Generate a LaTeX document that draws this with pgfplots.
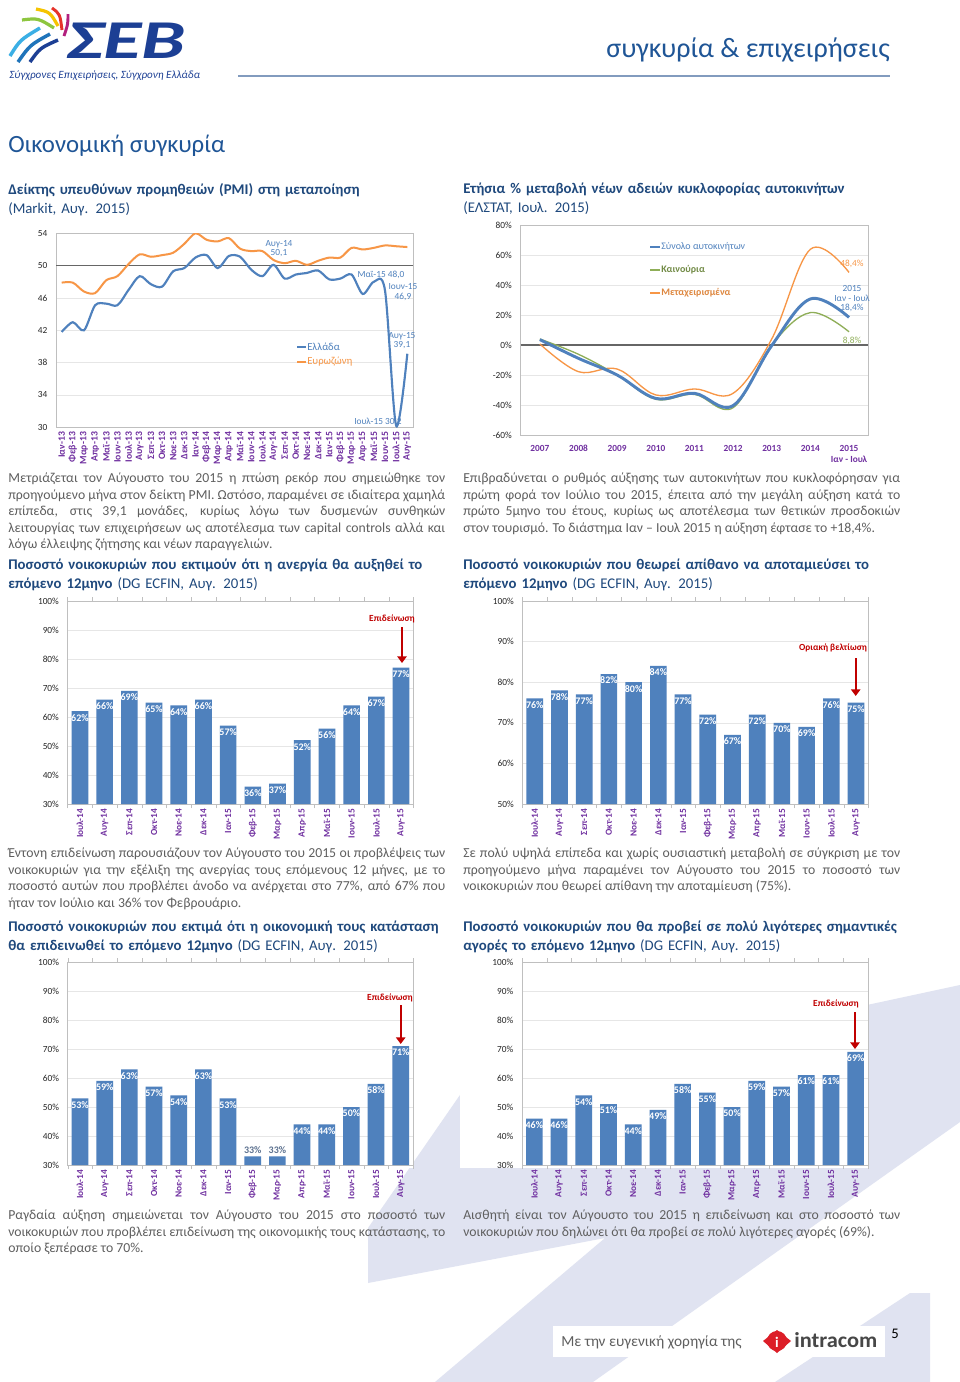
\documentclass[border=0pt]{standalone}
\usepackage{fontspec}
\setmainfont{Carlito}
\usepackage{pgfplots}
\pgfplotsset{compat=1.18}
\usetikzlibrary{arrows.meta}
\definecolor{xblue}{HTML}{4F81BD}
\definecolor{xorange}{HTML}{F79646}
\definecolor{xgreen}{HTML}{8FAE58}
\definecolor{catpurple}{HTML}{7030A0}
\definecolor{headblue}{HTML}{1F497D}
\definecolor{titleblue}{HTML}{1F5596}
\definecolor{bodygray}{HTML}{5F5F5F}
\definecolor{gridgray}{HTML}{E6E6E6}
\definecolor{axgray}{HTML}{BFBFBF}
\definecolor{darkred}{HTML}{C00000}
\definecolor{wm}{HTML}{E0E3F1}
\definecolor{seb}{HTML}{1C3F94}
\definecolor{lblgray}{HTML}{5D7290}
\definecolor{lg1}{HTML}{3BAFE5}
\definecolor{lg2}{HTML}{1F74BA}
\definecolor{lg3}{HTML}{8DC63F}
\definecolor{lg4}{HTML}{F5C400}
\definecolor{lg5}{HTML}{E6332A}
\definecolor{lg6}{HTML}{B3207E}
\definecolor{intred}{HTML}{DC1E28}
\definecolor{hline}{HTML}{829BBE}
\pgfplotsset{
  pg/.style={scale only axis, anchor=south west,
    axis line style={axgray}, ymajorgrids, grid style={gridgray},
    major tick length=0pt,
    /pgf/number format/assume math mode=true,
    yticklabel style={font=\fontsize{7}{8}\selectfont, text=black!85, xshift=-3pt},
  },
  barc/.style={pg, ybar, bar width=12.5pt, xmin=-0.5, xmax=13.5, ymax=100,
    xtick={0,...,13},
    xticklabels={Ιουλ-14,Αυγ-14,Σεπ-14,Οκτ-14,Νοε-14,Δεκ-14,Ιαν-15,Φεβ-15,Μαρ-15,Απρ-15,Μαϊ-15,Ιουν-15,Ιουλ-15,Αυγ-15},
    x tick label style={rotate=90, anchor=east, font=\bfseries\fontsize{7}{8}\selectfont, text=catpurple},
    minor xtick={-0.5,0.5,...,13.5}, minor tick length=3pt, tick align=outside,
    minor tick style={axgray},
    yticklabel={\pgfmathprintnumber{\tick}\%},
    nodes near coords={\pgfmathprintnumber{\pgfplotspointmeta}\%},
    nodes near coords style={anchor=north, text=white, font=\bfseries\fontsize{7.5}{8}\selectfont, inner sep=2pt},
  },
  barfill/.style={fill=xblue, draw=none, bar shift=0pt},
}
\begin{document}
\begin{tikzpicture}
\begin{scope}[x=0.75pt,y=-0.75pt]
\useasboundingbox (0,0) rectangle (960,1382);
\fill[white] (0,0) rectangle (960,1382);
% watermark
\fill[wm] (462,1092) -- (368,1228) -- (368,1283) -- (605,1238) -- (435,1382) -- (593,1382) -- (960,1122) -- (960,985) -- cycle;
\fill[wm] (775,1382) -- (910,1293) -- (930,1293) -- (930,1382) -- cycle;
\fill[white] (460,955) rectangle (868,1168);
\fill[white] (0,955) rectangle (413,1168);
% logo
\draw[line width=2.6pt, lg1] (10,56) .. controls (20,40) .. (40,28);
\draw[line width=2.6pt, lg2] (18,62) .. controls (30,45) .. (50,34);
\draw[line width=2.4pt, lg3] (22,20) .. controls (38,18) .. (54,28);
\draw[line width=2.4pt, lg4] (36,9) .. controls (50,12) .. (58,26);
\draw[line width=2.2pt, lg5] (52,8) .. controls (60,14) .. (62,30);
\draw[line width=2.2pt, lg6] (68,14) .. controls (68,24) .. (64,36);
\draw[line width=2.6pt, seb] (30,62) .. controls (40,48) .. (58,40);
\node[anchor=base west, inner sep=0, text depth=0pt, text=seb, font=\bfseries\itshape\fontsize{38}{38}\selectfont, xscale=1.55, yscale=1.08] at (66,58) {ΣΕΒ};
\node[anchor=base west, inner sep=0, text=seb, font=\itshape\fontsize{8.3}{9}\selectfont] at (9,78) {Σύγχρονες Επιχειρήσεις, Σύγχρονη Ελλάδα};
% header
\node[anchor=base east, inner sep=0, text=titleblue, font=\fontsize{21}{24}\selectfont] at (890,57) {συγκυρία \& επιχειρήσεις};
\draw[line width=1.3pt, hline] (238,76) -- (890,76);
\node[anchor=base west, inner sep=0, text=titleblue, font=\fontsize{18.6}{20}\selectfont] at (8,152) {Οικονομική συγκυρία};
% headings
\tikzset{head/.style={anchor=north west, inner sep=0, text width=345pt, align=left, text=headblue, font=\fontsize{11.1}{14.25}\selectfont}}
\node[head] at (8,183)
 {\textbf{Δείκτης υπευθύνων προμηθειών (PMI) στη μεταποίηση}\\(Markit, Αυγ. 2015)};
\node[head] at (463,183)
 {\textbf{Ετήσια \% μεταβολή νέων αδειών κυκλοφορίας αυτοκινήτων}\\(ΕΛΣΤΑΤ, Ιουλ. 2015)};
\node[head] at (8,559)
 {\textbf{Ποσοστό νοικοκυριών που εκτιμούν ότι η ανεργία θα αυξηθεί το}\\\textbf{επόμενο 12μηνο} (DG ECFIN, Αυγ. 2015)};
\node[head] at (463,559)
 {\textbf{Ποσοστό νοικοκυριών που θεωρεί απίθανο να αποταμιεύσει το}\\\textbf{επόμενο 12μηνο} (DG ECFIN, Αυγ. 2015)};
\node[head] at (8,921)
 {\textbf{Ποσοστό νοικοκυριών που εκτιμά ότι η οικονομική τους κατάσταση}\\\textbf{θα επιδεινωθεί το επόμενο 12μηνο} (DG ECFIN, Αυγ. 2015)};
\node[head] at (463,921)
 {\textbf{Ποσοστό νοικοκυριών που θα προβεί σε πολύ λιγότερες σημαντικές}\\\textbf{αγορές το επόμενο 12μηνο} (DG ECFIN, Αυγ. 2015)};
% paragraphs
\tikzset{para/.style={anchor=north west, inner sep=0, text width=327.75pt, align=justify, text=bodygray, font=\fontsize{10.3}{12.3}\selectfont}}
\node[para] at (8,473) {Μετριάζεται τον Αύγουστο του 2015 η πτώση ρεκόρ που σημειώθηκε τον\linebreak προηγούμενο μήνα στον δείκτη PMI. Ωστόσο, παραμένει σε ιδιαίτερα χαμηλά\linebreak επίπεδα, στις 39,1 μονάδες, κυρίως λόγω των δυσμενών συνθηκών\linebreak λειτουργίας των επιχειρήσεων ως αποτέλεσμα των capital controls αλλά και\linebreak λόγω έλλειψης ζήτησης και νέων παραγγελιών.};
\node[para] at (463,473) {Επιβραδύνεται ο ρυθμός αύξησης των αυτοκινήτων που κυκλοφόρησαν για\linebreak πρώτη φορά τον Ιούλιο του 2015, έπειτα από την μεγάλη αύξηση κατά το\linebreak πρώτο 5μηνο του έτους, κυρίως ως αποτέλεσμα των θετικών προσδοκιών\linebreak στον τουρισμό. Το διάστημα Ιαν – Ιουλ 2015 η αύξηση έφτασε το +18,4\%.};
\node[para] at (8,848) {Έντονη επιδείνωση παρουσιάζουν τον Αύγουστο του 2015 οι προβλέψεις των\linebreak νοικοκυριών για την εξέλιξη της ανεργίας τους επόμενους 12 μήνες, με το\linebreak ποσοστό αυτών που προβλέπει άνοδο να ανέρχεται στο 77\%, από 67\% που\linebreak ήταν τον Ιούλιο και 36\% τον Φεβρουάριο.};
\node[para] at (463,848) {Σε πολύ υψηλά επίπεδα και χωρίς ουσιαστική μεταβολή σε σύγκριση με τον\linebreak προηγούμενο μήνα παραμένει τον Αύγουστο του 2015 το ποσοστό των\linebreak νοικοκυριών που θεωρεί απίθανη την αποταμίευση (75\%).};
\node[para] at (8,1210) {Ραγδαία αύξηση σημειώνεται τον Αύγουστο του 2015 στο ποσοστό των\linebreak νοικοκυριών που προβλέπει επιδείνωση της οικονομικής τους κατάστασης, το\linebreak οποίο ξεπέρασε το 70\%.};
\node[para] at (463,1210) {Αισθητή είναι τον Αύγουστο του 2015 η επιδείνωση και στο ποσοστό των\linebreak νοικοκυριών που δηλώνει ότι θα προβεί σε πολύ λιγότερες αγορές (69\%).};
% footer
\fill[white] (553,1326) rectangle (885,1357);
\node[anchor=west, inner sep=0, text=bodygray, font=\fontsize{11.5}{13}\selectfont] at (561,1342) {Με την ευγενική χορηγία της};
\fill[intred] (777,1330) -- (791,1341) -- (777,1353) -- (763,1341) -- cycle;
\fill[intred] (777,1341) circle (10);
\node[text=white, font=\bfseries\fontsize{11}{12}\selectfont, inner sep=0] at (777,1342) {i};
\node[anchor=west, inner sep=0, text=black!72, font=\bfseries\fontsize{16}{18}\selectfont, xscale=1.05] at (794,1340) {intracom};
\node[anchor=west, inner sep=0, text=black, font=\fontsize{11}{12}\selectfont] at (891,1334) {5};
\end{scope}

% ---------- PMI chart
\begin{axis}[pg, at={(42.08pt,-320.48pt)}, width=267.6pt, height=145.5pt,
  xmin=-0.5, xmax=31.5, ymin=30, ymax=54, ytick={30,34,...,54},
  xtick={0,...,31},
  xticklabels={Ιαν-13,Φεβ-13,Μαρ-13,Απρ-13,Μαϊ-13,Ιουν-13,Ιουλ-13,Αυγ-13,Σεπ-13,Οκτ-13,Νοε-13,Δεκ-13,Ιαν-14,Φεβ-14,Μαρ-14,Απρ-14,Μαϊ-14,Ιουν-14,Ιουλ-14,Αυγ-14,Σεπ-14,Οκτ-14,Νοε-14,Δεκ-14,Ιαν-15,Φεβ-15,Μαρ-15,Απρ-15,Μαϊ-15,Ιουν-15,Ιουλ-15,Αυγ-15},
  x tick label style={rotate=90, anchor=east, font=\bfseries\fontsize{7.3}{8}\selectfont, text=catpurple},
  extra y ticks={50}, extra y tick labels={}, extra y tick style={grid style={black!60, line width=0.8pt}},
]
\addplot[xorange, line width=1.5pt, smooth, tension=0.5] coordinates {
(0,47.9)(1,47.9)(2,46.8)(3,46.6)(4,48.2)(5,48.7)(6,50.2)(7,51.4)(8,51.1)(9,51.3)(10,51.6)(11,52.7)(12,54.0)(13,53.2)(14,53.0)(15,53.4)(16,52.1)(17,51.8)(18,51.8)(19,50.7)(20,50.3)(21,50.6)(22,50.1)(23,50.6)(24,51.0)(25,51.0)(26,52.2)(27,52.0)(28,52.2)(29,52.5)(30,52.4)(31,52.3)};
\addplot[xblue, line width=1.6pt, smooth, tension=0.5] coordinates {
(0,41.8)(1,43.0)(2,42.0)(3,45.1)(4,45.3)(5,45.1)(6,47.0)(7,48.7)(8,47.7)(9,47.4)(10,49.3)(11,49.7)(12,51.0)(13,51.3)(14,49.7)(15,51.2)(16,51.1)(17,49.5)(18,48.7)(19,50.1)(20,48.4)(21,48.9)(22,49.1)(23,49.4)(24,48.3)(25,48.4)(26,48.9)(27,46.5)(28,48.0)(29,46.9)(30,30.2)(31,39.1)};
\end{axis}

% ---------- Car chart
\begin{axis}[pg, at={(390.4pt,-326.25pt)}, width=260.85pt, height=157.5pt,
  xmin=-0.5, xmax=8.5, ymin=-60, ymax=80, ytick={-60,-40,...,80},
  yticklabel={\pgfmathprintnumber{\tick}\%},
  xtick={0,...,8},
  xticklabels={2007,2008,2009,2010,2011,2012,2013,2014,{2015\\Ιαν - Ιουλ}},
  x tick label style={align=center, anchor=north, yshift=-4pt, font=\bfseries\fontsize{7}{8.5}\selectfont, text=catpurple},
  extra y ticks={0}, extra y tick labels={}, extra y tick style={grid style={black!60, line width=0.8pt}},
]
\addplot[xorange, line width=1pt, smooth, tension=0.6] coordinates {
(0,0.7)(1,-17.8)(2,-16.0)(3,-33.3)(4,-29.3)(5,-32.2)(6,4.0)(7,63.8)(8,48.4)};
\addplot[xgreen, line width=1pt, smooth, tension=0.6] coordinates {
(0,4.0)(1,-6.2)(2,-20.0)(3,-36.2)(4,-32.9)(5,-41.8)(6,0.0)(7,21.6)(8,8.8)};
\addplot[xblue, line width=2.2pt, smooth, tension=0.6] coordinates {
(0,3.6)(1,-8.9)(2,-20.0)(3,-35.6)(4,-32.2)(5,-40.4)(6,-0.4)(7,30.7)(8,18.4)};
\end{axis}

% ---------- Bar chart 3
\begin{axis}[barc, at={(50.7pt,-603pt)}, width=259.35pt, height=152.25pt,
  ymin=30, ytick={30,40,...,100}]
\addplot[barfill] coordinates {(0,62)(1,66)(2,69)(3,65)(4,64)(5,66)(6,57)(7,36)(8,37)(9,52)(10,56)(11,64)(12,67)(13,77)};
\end{axis}

% ---------- Bar chart 4
\begin{axis}[barc, at={(391.8pt,-603pt)}, width=259.5pt, height=152.25pt,
  ymin=50, ytick={50,60,...,100}]
\addplot[barfill] coordinates {(0,76)(1,78)(2,77)(3,82)(4,80)(5,84)(6,77)(7,72)(8,67)(9,72)(10,70)(11,69)(12,76)(13,75)};
\end{axis}

% ---------- Bar chart 5
\begin{axis}[barc, at={(50.8pt,-873.75pt)}, width=259pt, height=152.25pt,
  ymin=30, ytick={30,40,...,100}]
\addplot[barfill] coordinates {(0,53)(1,59)(2,63)(3,57)(4,54)(5,63)(6,53)(9,44)(10,44)(11,50)(12,58)(13,71)};
\addplot[barfill, nodes near coords style={anchor=south, text=lblgray, font=\bfseries\fontsize{7.5}{8}\selectfont}] coordinates {(7,33)(8,33)};
\end{axis}

% ---------- Bar chart 6
\begin{axis}[barc, at={(391.5pt,-873.75pt)}, width=259.5pt, height=152.25pt,
  ymin=30, ytick={30,40,...,100}]
\addplot[barfill] coordinates {(0,46)(1,46)(2,54)(3,51)(4,44)(5,49)(6,58)(7,55)(8,50)(9,59)(10,57)(11,61)(12,61)(13,69)};
\end{axis}

\begin{scope}[x=0.75pt,y=-0.75pt]
% PMI legend and annotations
\draw[xblue, line width=1.5pt] (297,347) -- (306,347);
\node[anchor=west, inner sep=0, text=xblue, font=\fontsize{8}{9}\selectfont] at (307,347) {Ελλάδα};
\draw[xorange, line width=1.5pt] (297,362) -- (306,362);
\node[anchor=west, inner sep=0, text=xorange, font=\fontsize{8}{9}\selectfont] at (307,362) {Ευρωζώνη};
\tikzset{ann/.style={inner sep=0, font=\fontsize{7}{8}\selectfont}}
\node[ann, text=xblue] at (279,244) {Αυγ-14};
\node[ann, text=xblue] at (279,253.5) {50,1};
\node[ann, text=xblue] at (381,275) {Μαϊ-15 48,0};
\node[ann, text=xblue] at (403,287) {Ιουν-15};
\node[ann, text=xblue] at (403,296.5) {46,9};
\node[ann, text=xblue] at (402,336) {Αυγ-15};
\node[ann, text=xblue] at (402,345.5) {39,1};
\node[ann, text=xblue] at (378,422) {Ιουλ-15 30,2};
% car legend and annotations
\draw[xblue, line width=2pt] (650,247) -- (660,247);
\node[anchor=west, inner sep=0, text=xblue, font=\fontsize{7.5}{9}\selectfont] at (661,247) {Σύνολο αυτοκινήτων};
\draw[xgreen, line width=1pt] (650,270) -- (660,270);
\node[anchor=west, inner sep=0, text=xgreen!80!black, font=\bfseries\fontsize{7.5}{9}\selectfont] at (661,270) {Καινούρια};
\draw[xorange, line width=1pt] (650,293) -- (660,293);
\node[anchor=west, inner sep=0, text=xorange!90!black, font=\bfseries\fontsize{7.5}{9}\selectfont] at (661,293) {Μεταχειρισμένα};
\node[ann, text=xorange] at (852,264) {48,4\%};
\node[ann, text=xblue] at (852,288) {2015};
\node[ann, text=xblue] at (852,298) {Ιαν - Ιουλ};
\node[ann, text=xblue] at (852,308) {18,4\%};
\node[ann, text=xgreen] at (852,341) {8,8\%};
% bar annotations
\tikzset{redlbl/.style={inner sep=0, text=darkred, font=\bfseries\fontsize{7}{8}\selectfont},
  redarr/.style={darkred, line width=1.8pt, -{Triangle[length=5pt,width=7pt]}}}
\node[redlbl] at (392,619) {Επιδείνωση};
\draw[redarr] (402,627) -- (402,663);
\node[redlbl] at (833,648) {Οριακή βελτίωση};
\draw[redarr] (855.7,658) -- (855.7,696);
\node[redlbl] at (390,998) {Επιδείνωση};
\draw[redarr] (400.7,1005) -- (400.7,1044);
\node[redlbl] at (836,1004) {Επιδείνωση};
\draw[redarr] (855,1012) -- (855,1049);
\end{scope}
\end{tikzpicture}
\end{document}
